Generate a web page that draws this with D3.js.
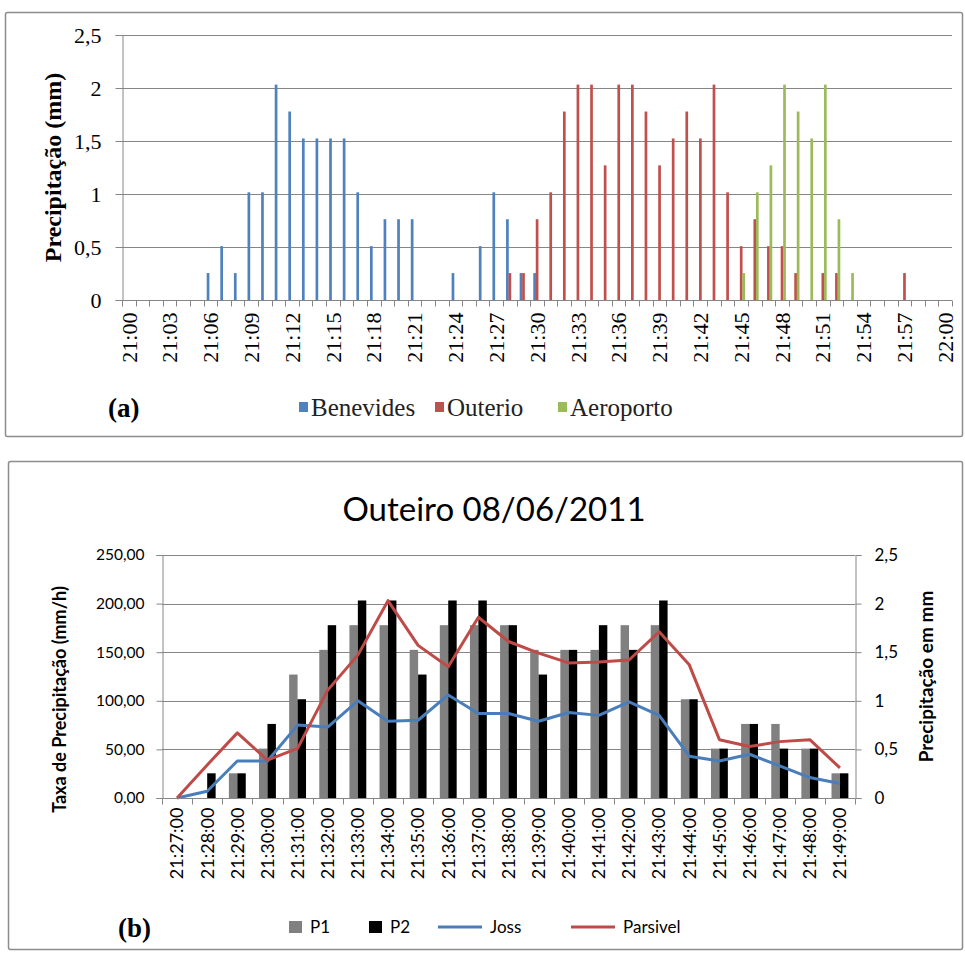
<!DOCTYPE html>
<html>
<head>
<meta charset="utf-8">
<script src="https://cdn.jsdelivr.net/npm/d3@7"></script>
<style>
  body { margin: 0; background: #fff; }
  svg { display: block; }
</style>
</head>
<body>
<div id="chart"></div>
<script>
// ---- chart (a): minute precipitation at three gauges, 21:00 - 22:00 ----
const minutesA = d3.range(0, 61).map(m => m < 60 ? '21:' + d3.format('02')(m) : '22:00');
const tickLabelsA = minutesA.filter((d, i) => i % 3 === 0);
const seriesA = ['Benevides', 'Outerio', 'Aeroporto'];
const benevides = [0, 0, 0, 0, 0, 0, 0.254, 0.508, 0.254, 1.016, 1.016, 2.032, 1.778, 1.524, 1.524, 1.524,
  1.524, 1.016, 0.508, 0.762, 0.762, 0.762, 0, 0, 0.254, 0, 0.508, 1.016, 0.762, 0.254, 0.254,
  0, 0, 0, 0, 0, 0, 0, 0, 0, 0, 0, 0, 0, 0, 0, 0, 0, 0, 0, 0, 0, 0, 0, 0, 0, 0, 0, 0, 0, 0];
const outerio = [0, 0, 0, 0, 0, 0, 0, 0, 0, 0, 0, 0, 0, 0, 0, 0, 0, 0, 0, 0, 0, 0, 0, 0, 0, 0, 0, 0,
  0.254, 0.254, 0.762, 1.016, 1.778, 2.032, 2.032, 1.27, 2.032, 2.032, 1.778, 1.27, 1.524, 1.778, 1.524,
  2.032, 1.016, 0.508, 0.762, 0.508, 0.508, 0.254, 0, 0.254, 0.254, 0, 0, 0, 0, 0.254, 0, 0, 0];
const aeroporto = [0, 0, 0, 0, 0, 0, 0, 0, 0, 0, 0, 0, 0, 0, 0, 0, 0, 0, 0, 0, 0, 0, 0, 0, 0, 0, 0, 0,
  0, 0, 0, 0, 0, 0, 0, 0, 0, 0, 0, 0, 0, 0, 0, 0, 0, 0.254, 1.016, 1.27, 2.032, 1.778, 1.524, 2.032,
  0.762, 0.254, 0, 0, 0, 0, 0, 0, 0];
const yTicksA = [0, 0.5, 1, 1.5, 2, 2.5];

// ---- chart (b): Outeiro 08/06/2011 ----
const minutesB = ['21:27:00', '21:28:00', '21:29:00', '21:30:00', '21:31:00', '21:32:00', '21:33:00',
  '21:34:00', '21:35:00', '21:36:00', '21:37:00', '21:38:00', '21:39:00', '21:40:00', '21:41:00',
  '21:42:00', '21:43:00', '21:44:00', '21:45:00', '21:46:00', '21:47:00', '21:48:00', '21:49:00'];
const p1 = [0, 0, 25.4, 50.8, 127, 152.4, 177.8, 177.8, 152.4, 177.8, 177.8, 177.8, 152.4, 152.4,
  152.4, 177.8, 177.8, 101.6, 50.8, 76.2, 76.2, 50.8, 25.4];
const p2 = [0, 25.4, 25.4, 76.2, 101.6, 177.8, 203.2, 203.2, 127, 203.2, 203.2, 177.8, 127, 152.4,
  177.8, 152.4, 203.2, 101.6, 50.8, 76.2, 50.8, 50.8, 25.4];
const joss = [0, 0.07, 0.38, 0.38, 0.75, 0.73, 1.0, 0.79, 0.8, 1.06, 0.87, 0.87, 0.79, 0.88, 0.85,
  0.99, 0.85, 0.43, 0.38, 0.45, 0.33, 0.21, 0.15];
const parsivel = [0, 0.34, 0.67, 0.39, 0.51, 1.11, 1.47, 2.03, 1.57, 1.35, 1.86, 1.61, 1.49, 1.39,
  1.4, 1.42, 1.71, 1.37, 0.6, 0.53, 0.58, 0.6, 0.31];
const yTicksLeft = [0, 50, 100, 150, 200, 250];
const yTicksRight = [0, 0.5, 1, 1.5, 2, 2.5];

const colorsA = { Benevides: '#4f81bd', Outerio: '#c0504d', Aeroporto: '#9bbb59' };
const gridColor = '#868686';
const serif = '"Liberation Serif", "Times New Roman", serif';
const sans = 'Lato, "Noto Sans", sans-serif';
const commaFmt = s => String(s).replace('.', ',');

const svg = d3.select('#chart').append('svg')
  .attr('width', 965)
  .attr('height', 958);

svg.append('rect').attr('width', 965).attr('height', 958).attr('fill', '#fff');

// frames round the two charts
svg.append('rect')
  .attr('x', 5.5).attr('y', 12.5).attr('width', 957).attr('height', 424)
  .attr('rx', 2)
  .attr('fill', 'none').attr('stroke', '#8c8c8c').attr('stroke-width', 1.5);
svg.append('rect')
  .attr('x', 8.5).attr('y', 461.5).attr('width', 954).attr('height', 488)
  .attr('rx', 2)
  .attr('fill', 'none').attr('stroke', '#8c8c8c').attr('stroke-width', 1.5);

// ================= chart (a) =================
const a = { left: 122, right: 952, top: 35, bottom: 300 };

const xA = d3.scaleBand()
  .domain(minutesA)
  .range([a.left, a.right])
  .paddingInner(0.45)
  .paddingOuter(0.225);
const xStepA = (a.right - a.left) / minutesA.length;
const xSubA = d3.scaleBand()
  .domain(seriesA)
  .range([0, xA.bandwidth()]);
const yA = d3.scaleLinear()
  .domain([0, 2.5])
  .range([a.bottom, a.top]);

const gA = svg.append('g');

// gridlines
gA.append('g')
  .selectAll('line')
  .data(yTicksA.filter(d => d > 0))
  .enter()
  .append('line')
    .attr('x1', a.left).attr('x2', a.right)
    .attr('y1', d => Math.round(yA(d)) + 0.5).attr('y2', d => Math.round(yA(d)) + 0.5)
    .attr('stroke', gridColor).attr('stroke-width', 1);

// bars
const dataA = { Benevides: benevides, Outerio: outerio, Aeroporto: aeroporto };
seriesA.forEach(s => {
  gA.append('g')
    .selectAll('rect')
    .data(dataA[s].map((v, i) => ({ minute: minutesA[i], v })).filter(d => d.v > 0))
    .enter()
    .append('rect')
      .attr('x', d => xA(d.minute) + xSubA(s))
      .attr('width', xSubA.bandwidth() + 0.2)
      .attr('y', d => yA(d.v))
      .attr('height', d => yA(0) - yA(d.v))
      .attr('fill', colorsA[s]);
});

// y axis
const yAxisA = gA.append('g')
  .attr('transform', 'translate(' + (a.left + 0.5) + ',0)')
  .call(d3.axisLeft(yA).tickValues(yTicksA).tickSize(7).tickPadding(14).tickFormat(commaFmt));
yAxisA.selectAll('line, path').attr('stroke', gridColor);
yAxisA.selectAll('text')
  .attr('font-family', serif).attr('font-size', 22).attr('fill', '#000');

// x axis: ticks between the minutes, label every third minute
const xAxisA = gA.append('g')
  .attr('transform', 'translate(0,' + (a.bottom + 0.5) + ')');
xAxisA.append('line')
  .attr('x1', a.left).attr('x2', a.right)
  .attr('stroke', gridColor);
xAxisA.selectAll('line.tick')
  .data(d3.range(0, minutesA.length + 1))
  .enter()
  .append('line')
    .attr('class', 'tick')
    .attr('x1', i => Math.round(a.left + i * xStepA) + 0.5)
    .attr('x2', i => Math.round(a.left + i * xStepA) + 0.5)
    .attr('y1', 0).attr('y2', 6)
    .attr('stroke', gridColor);
xAxisA.selectAll('text')
  .data(tickLabelsA)
  .enter()
  .append('text')
    .attr('transform', d => 'translate(' + (xA(d) + xA.bandwidth() / 2) + ',12)rotate(-90)')
    .attr('dy', '0.35em')
    .attr('text-anchor', 'end')
    .attr('font-family', serif).attr('font-size', 22)
    .text(d => d);

// y title
gA.append('text')
  .attr('transform', 'translate(53,' + ((a.top + a.bottom) / 2) + ')rotate(-90)')
  .attr('dy', '0.35em')
  .attr('text-anchor', 'middle')
  .attr('font-family', serif).attr('font-size', 24).attr('font-weight', 'bold')
  .text('Precipitação (mm)');

// label and legend
gA.append('text')
  .attr('x', 108).attr('y', 417)
  .attr('font-family', serif).attr('font-size', 27).attr('font-weight', 'bold')
  .text('(a)');

const legendA = gA.append('g').attr('transform', 'translate(0,407)');
const legendAX = { Benevides: 299, Outerio: 435, Aeroporto: 558 };
seriesA.forEach(s => {
  const item = legendA.append('g').attr('transform', 'translate(' + legendAX[s] + ',0)');
  item.append('rect')
    .attr('x', 0).attr('y', -5).attr('width', 9).attr('height', 10)
    .attr('fill', colorsA[s]);
  item.append('text')
    .attr('x', 12).attr('dy', '0.35em')
    .attr('font-family', serif).attr('font-size', 25).attr('fill', '#222')
    .text(s);
});

// ================= chart (b) =================
const b = { left: 162, right: 855, top: 555, bottom: 798 };
const barsB = ['P1', 'P2'];
const barColors = { P1: '#808080', P2: '#000000' };
const lineColors = { Joss: '#4a7ebb', Parsivel: '#be4b48' };

const xB = d3.scaleBand()
  .domain(minutesB)
  .range([b.left, b.right])
  .paddingInner(0.44)
  .paddingOuter(0.22);
const xStepB = (b.right - b.left) / minutesB.length;
const xSubB = d3.scaleBand()
  .domain(barsB)
  .range([0, xB.bandwidth()]);
const yLeft = d3.scaleLinear()
  .domain([0, 250])
  .range([b.bottom, b.top]);
const yRight = d3.scaleLinear()
  .domain([0, 2.5])
  .range([b.bottom, b.top]);

const gB = svg.append('g');

gB.append('text')
  .attr('x', 494).attr('y', 509)
  .attr('dy', '0.35em')
  .attr('text-anchor', 'middle')
  .attr('font-family', sans).attr('font-size', 33)
  .text('Outeiro 08/06/2011');

// gridlines
gB.append('g')
  .selectAll('line')
  .data(yTicksLeft.filter(d => d > 0))
  .enter()
  .append('line')
    .attr('x1', b.left).attr('x2', b.right)
    .attr('y1', d => Math.round(yLeft(d)) + 0.5).attr('y2', d => Math.round(yLeft(d)) + 0.5)
    .attr('stroke', gridColor);

// bars
const dataB = { P1: p1, P2: p2 };
barsB.forEach(s => {
  gB.append('g')
    .selectAll('rect')
    .data(dataB[s].map((v, i) => ({ minute: minutesB[i], v })).filter(d => d.v > 0))
    .enter()
    .append('rect')
      .attr('x', d => xB(d.minute) + xSubB(s))
      .attr('width', xSubB.bandwidth())
      .attr('y', d => yLeft(d.v))
      .attr('height', d => yLeft(0) - yLeft(d.v))
      .attr('fill', barColors[s]);
});

// lines (right axis)
const lineB = d3.line()
  .x((d, i) => xB(minutesB[i]) + xB.bandwidth() / 2)
  .y(d => yRight(d));
gB.append('path')
  .datum(joss)
  .attr('d', lineB)
  .attr('fill', 'none').attr('stroke', lineColors.Joss)
  .attr('stroke-width', 3).attr('stroke-linejoin', 'round');
gB.append('path')
  .datum(parsivel)
  .attr('d', lineB)
  .attr('fill', 'none').attr('stroke', lineColors.Parsivel)
  .attr('stroke-width', 3).attr('stroke-linejoin', 'round');

// left axis
const yAxisL = gB.append('g')
  .attr('transform', 'translate(' + (b.left + 0.5) + ',0)')
  .call(d3.axisLeft(yLeft).tickValues(yTicksLeft).tickSize(6).tickPadding(12)
    .tickFormat(d => d3.format('.2f')(d).replace('.', ',')));
yAxisL.selectAll('line, path').attr('stroke', gridColor);
yAxisL.selectAll('text')
  .attr('font-family', sans).attr('font-size', 15.5).attr('fill', '#000');

// right axis
const yAxisR = gB.append('g')
  .attr('transform', 'translate(' + (b.right + 0.5) + ',0)')
  .call(d3.axisRight(yRight).tickValues(yTicksRight).tickSize(6).tickPadding(13).tickFormat(commaFmt));
yAxisR.selectAll('line, path').attr('stroke', gridColor);
yAxisR.selectAll('text')
  .attr('font-family', sans).attr('font-size', 17).attr('fill', '#000');

// x axis
const xAxisB = gB.append('g')
  .attr('transform', 'translate(0,' + (b.bottom + 0.5) + ')');
xAxisB.append('line')
  .attr('x1', b.left).attr('x2', b.right)
  .attr('stroke', gridColor);
xAxisB.selectAll('line.tick')
  .data(d3.range(0, minutesB.length + 1))
  .enter()
  .append('line')
    .attr('class', 'tick')
    .attr('x1', i => Math.round(b.left + i * xStepB) + 0.5)
    .attr('x2', i => Math.round(b.left + i * xStepB) + 0.5)
    .attr('y1', 0).attr('y2', 6)
    .attr('stroke', gridColor);
xAxisB.selectAll('text')
  .data(minutesB)
  .enter()
  .append('text')
    .attr('transform', d => 'translate(' + (xB(d) + xB.bandwidth() / 2) + ',9)rotate(-90)')
    .attr('dy', '0.35em')
    .attr('text-anchor', 'end')
    .attr('font-family', sans).attr('font-size', 18)
    .text(d => d);

// axis titles
gB.append('text')
  .attr('transform', 'translate(60,' + ((b.top + b.bottom) / 2 + 23) + ')rotate(-90)')
  .attr('dy', '0.35em')
  .attr('text-anchor', 'middle')
  .attr('font-family', sans).attr('font-size', 18).attr('font-weight', 'bold')
  .text('Taxa de Precipitação (mm/h)');
gB.append('text')
  .attr('transform', 'translate(926,' + ((b.top + b.bottom) / 2) + ')rotate(-90)')
  .attr('dy', '0.35em')
  .attr('text-anchor', 'middle')
  .attr('font-family', sans).attr('font-size', 19).attr('font-weight', 'bold')
  .text('Precipitação em mm');

// label and legend
gB.append('text')
  .attr('x', 118).attr('y', 937)
  .attr('font-family', serif).attr('font-size', 27).attr('font-weight', 'bold')
  .text('(b)');

const legendB = gB.append('g').attr('transform', 'translate(0,927)');
barsB.forEach((s, i) => {
  const item = legendB.append('g').attr('transform', 'translate(' + [289, 369][i] + ',0)');
  item.append('rect')
    .attr('x', 0).attr('y', -6).attr('width', 13).attr('height', 12)
    .attr('fill', barColors[s]);
  item.append('text')
    .attr('x', 21).attr('dy', '0.35em')
    .attr('font-family', sans).attr('font-size', 17)
    .text(s);
});
['Joss', 'Parsivel'].forEach((s, i) => {
  const item = legendB.append('g').attr('transform', 'translate(' + [438, 571][i] + ',0)');
  item.append('line')
    .attr('x1', 0).attr('x2', 44)
    .attr('stroke', lineColors[s]).attr('stroke-width', 3);
  item.append('text')
    .attr('x', 52).attr('dy', '0.35em')
    .attr('font-family', sans).attr('font-size', 17)
    .text(s);
});
</script>
</body>
</html>
